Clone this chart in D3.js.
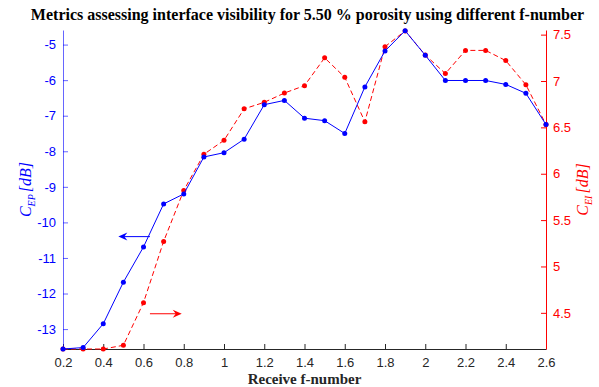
<!DOCTYPE html>
<html>
<head>
  <meta charset="utf-8">
  <title>Metrics assessing interface visibility</title>
  <script src="https://d3js.org/d3.v7.min.js"></script>
  <style>
    body { margin: 0; background: #fff; }
    svg { display: block; }
    .tick text { font-family: "Liberation Sans", Arial, sans-serif; font-size: 13px; }
  </style>
</head>
<body>
<svg id="chart" width="599" height="387"></svg>
<script>
  // Données
  const fNumber = [0.2, 0.3, 0.4, 0.5, 0.6, 0.7, 0.8, 0.9, 1.0, 1.1, 1.2, 1.3, 1.4,
                   1.5, 1.6, 1.7, 1.8, 1.9, 2.0, 2.1, 2.2, 2.3, 2.4, 2.5, 2.6];
  const cep = [-13.56, -13.52, -12.85, -11.68, -10.69, -9.48, -9.2, -8.16, -8.04, -7.66,
               -6.69, -6.57, -7.07, -7.14, -7.5, -6.19, -5.18, -4.61, -5.3, -6.01,
               -6.01, -6.01, -6.12, -6.37, -7.25];
  const cei = [4.11, 4.11, 4.11, 4.15, 4.61, 5.27, 5.82, 6.21, 6.36, 6.70,
               6.77, 6.87, 6.95, 7.25, 7.04, 6.56, 7.37, 7.54, 7.28, 7.08,
               7.33, 7.33, 7.22, 6.96, 6.53];
  const xTicks = [0.2, 0.4, 0.6, 0.8, 1, 1.2, 1.4, 1.6, 1.8, 2, 2.2, 2.4, 2.6];
  const leftTicks = [-13, -12, -11, -10, -9, -8, -7, -6, -5];
  const rightTicks = [4.5, 5, 5.5, 6, 6.5, 7, 7.5];
  // flèches : [x début, x fin, y]
  const arrowLeft = [0.632, 0.475, -10.4];
  const arrowRight = [0.632, 0.79, 4.49];

  const margin = { top: 30, right: 53, bottom: 38, left: 63 },
        width = 599 - margin.left - margin.right,
        height = 387 - margin.top - margin.bottom;

  const svg = d3.select("#chart");
  const g = svg.append("g").attr("transform", `translate(${margin.left},${margin.top})`);

  const x = d3.scaleLinear().domain([0.2, 2.6]).range([0, width]);
  const yL = d3.scaleLinear().domain([-13.56, -4.59]).range([height, 0]);
  const yR = d3.scaleLinear().domain([4.11, 7.55]).range([height, 0]);

  const blue = "#0000ff", red = "#ff0000";
  const plain = d => String(d);

  // axes (ticks vers l'intérieur, comme MATLAB)
  const xAxis = g.append("g").attr("transform", `translate(0,${height})`)
    .call(d3.axisBottom(x).tickValues(xTicks).tickSizeInner(-5).tickSizeOuter(0).tickPadding(9)
      .tickFormat(plain));
  xAxis.selectAll("line, path").attr("stroke", "#262626");
  xAxis.selectAll("text").attr("fill", "#262626");

  const lAxis = g.append("g")
    .call(d3.axisLeft(yL).tickValues(leftTicks).tickSizeInner(-5).tickSizeOuter(0).tickPadding(7)
      .tickFormat(plain));
  lAxis.selectAll("line, path").attr("stroke", blue).attr("stroke-opacity", 0.6);
  lAxis.selectAll("text").attr("fill", blue);

  const rAxis = g.append("g").attr("transform", `translate(${width},0)`)
    .call(d3.axisRight(yR).tickValues(rightTicks).tickSizeInner(-5).tickSizeOuter(0).tickPadding(7)
      .tickFormat(plain));
  rAxis.selectAll("line, path").attr("stroke", red);
  rAxis.selectAll("text").attr("fill", red);

  // courbes
  const lineL = d3.line().x((d, i) => x(fNumber[i])).y(d => yL(d));
  const lineR = d3.line().x((d, i) => x(fNumber[i])).y(d => yR(d));

  g.append("path").datum(cei).attr("fill", "none").attr("stroke", red)
    .attr("stroke-width", 1).attr("stroke-dasharray", "5,3").attr("d", lineR);
  g.selectAll(".pr").data(cei).enter().append("circle")
    .attr("cx", (d, i) => x(fNumber[i])).attr("cy", d => yR(d)).attr("r", 2.5).attr("fill", red);

  g.append("path").datum(cep).attr("fill", "none").attr("stroke", blue)
    .attr("stroke-width", 1).attr("d", lineL);
  g.selectAll(".pb").data(cep).enter().append("circle")
    .attr("cx", (d, i) => x(fNumber[i])).attr("cy", d => yL(d)).attr("r", 2.5).attr("fill", blue);

  // flèches
  function arrow(x0, x1, y, color) {
    const dir = Math.sign(x1 - x0);
    g.append("line").attr("x1", x0).attr("x2", x1 - dir * 4).attr("y1", y).attr("y2", y)
      .attr("stroke", color).attr("stroke-width", 1);
    g.append("path")
      .attr("d", `M${x1},${y} L${x1 - dir * 9},${y - 4} L${x1 - dir * 6},${y} L${x1 - dir * 9},${y + 4} Z`)
      .attr("fill", color);
  }
  arrow(x(arrowLeft[0]), x(arrowLeft[1]), yL(arrowLeft[2]), blue);
  arrow(x(arrowRight[0]), x(arrowRight[1]), yR(arrowRight[2]), red);

  // titres
  const serif = "'Liberation Serif', 'DejaVu Serif', serif";
  svg.append("text").attr("x", margin.left + width / 2 + 3).attr("y", 20)
    .attr("text-anchor", "middle").attr("font-family", serif).attr("font-weight", "bold")
    .attr("font-size", 16).text("Metrics assessing interface visibility for 5.50 % porosity using different f-number");

  svg.append("text").attr("x", margin.left + width / 2).attr("y", 384)
    .attr("text-anchor", "middle").attr("font-family", serif).attr("font-weight", "bold")
    .attr("font-size", 15).attr("fill", "#262626").text("Receive f-number");

  function yLabel(xPos, sub, color) {
    const t = svg.append("text")
      .attr("transform", `translate(${xPos},${margin.top + height / 2}) rotate(-90)`)
      .attr("text-anchor", "middle").attr("font-family", serif).attr("font-style", "italic")
      .attr("font-size", 16).attr("fill", color);
    t.append("tspan").text("C");
    t.append("tspan").attr("font-size", 10).attr("dy", 4).text(sub);
    t.append("tspan").attr("dy", -4).attr("dx", 2).text("[dB]");
  }
  yLabel(31, "EP", blue);
  yLabel(588, "EI", red);
</script>
</body>
</html>
